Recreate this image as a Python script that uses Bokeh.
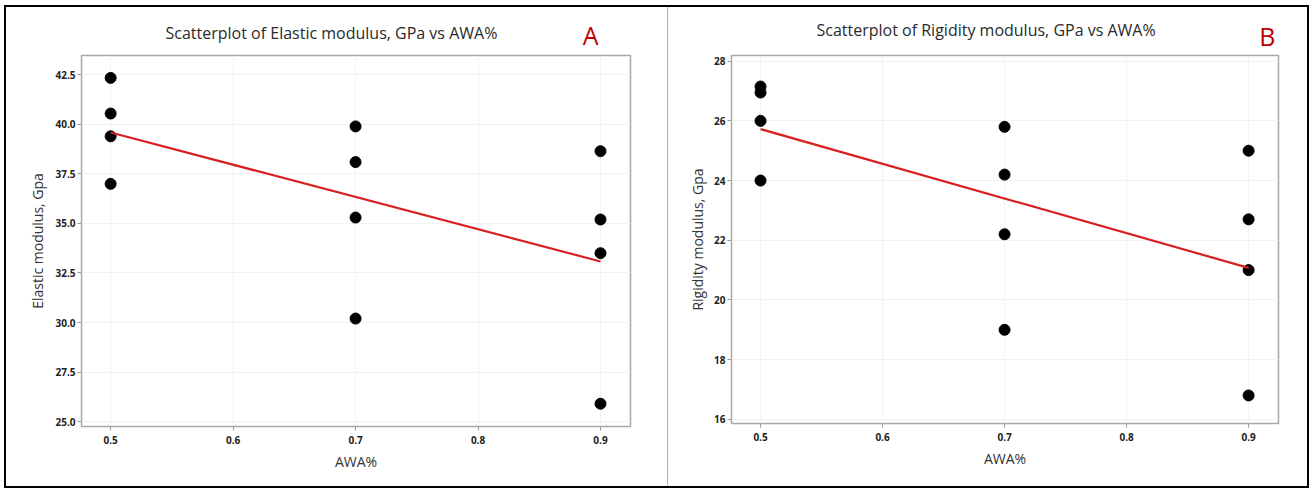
import numpy as np
from bokeh.plotting import figure
from bokeh.models import FixedTicker, NumeralTickFormatter, Title
from bokeh.layouts import row
from bokeh.embed import file_html
from bokeh.resources import INLINE

# ---- data ----
awa_levels = [0.5, 0.6, 0.7, 0.8, 0.9]
awa_a = [0.5, 0.5, 0.5, 0.5, 0.7, 0.7, 0.7, 0.7, 0.9, 0.9, 0.9, 0.9]
elastic = [42.35, 40.55, 39.4, 37.0, 39.9, 38.1, 35.3, 30.2, 38.65, 35.2, 33.5, 25.9]
awa_b = [0.5, 0.5, 0.5, 0.5, 0.7, 0.7, 0.7, 0.7, 0.9, 0.9, 0.9, 0.9]
rigidity = [27.15, 26.95, 26.0, 24.0, 25.8, 24.2, 22.2, 19.0, 25.0, 22.7, 21.0, 16.8]
yticks_a = [25.0, 27.5, 30.0, 32.5, 35.0, 37.5, 40.0, 42.5]
yticks_b = [16, 18, 20, 22, 24, 26, 28]

title_a = "Scatterplot of Elastic modulus, GPa vs AWA%"
title_b = "Scatterplot of Rigidity modulus, GPa vs AWA%"
ylabel_a = "Elastic modulus, Gpa"
ylabel_b = "Rigidity modulus, Gpa"
xlabel = "AWA%"

FONT = "Open Sans"
RED = "#c00000"


def panel(x, y, yticks, yfmt, yr, title, ylabel, letter, width, ml, mr, mt, fw, fh,
          title_off, title_so, letter_off, letter_so, ylab_standoff):
    p = figure(width=width, height=488, frame_width=fw, frame_height=fh,
               x_range=(0.4762, 0.9245), y_range=yr,
               output_backend="svg", toolbar_location=None,
               min_border_left=ml, min_border_right=mr, min_border_top=mt,
               min_border_bottom=488 - mt - fh)
    p.background_fill_color = "white"
    p.border_fill_color = None
    p.outline_line_color = "#a8a8a8"
    p.outline_line_width = 1.5
    for ax in (p.xaxis[0], p.yaxis[0]):
        ax.axis_line_color = None
        ax.major_tick_line_color = "#9a9a9a"
        ax.major_tick_out = 4
        ax.major_tick_in = 0
        ax.minor_tick_line_color = None
        ax.major_label_text_font = FONT
        ax.major_label_text_font_style = "bold"
        ax.major_label_text_font_size = "10px"
        ax.major_label_text_color = "#222222"
        ax.axis_label_text_font = FONT
        ax.axis_label_text_font_style = "normal"
        ax.axis_label_text_font_size = "14px"
        ax.axis_label_text_color = "#333333"
    p.xaxis.ticker = FixedTicker(ticks=awa_levels)
    p.xaxis.formatter = NumeralTickFormatter(format="0.0")
    p.xaxis.major_label_standoff = 5
    p.xaxis.axis_label = xlabel
    p.xaxis.axis_label_standoff = 5
    p.yaxis.ticker = FixedTicker(ticks=yticks)
    p.yaxis.formatter = NumeralTickFormatter(format=yfmt)
    p.yaxis.major_label_standoff = 2
    p.yaxis.axis_label = ylabel
    p.yaxis.axis_label_standoff = ylab_standoff
    p.grid.grid_line_color = "#f2f2f2"
    p.grid.grid_line_width = 1

    p.scatter(x, y, size=11, color="black")
    slope, icpt = np.polyfit(np.array(x), np.array(y), 1)
    xs = np.array([min(x), max(x)])
    p.line(xs, slope * xs + icpt, line_color="#d82020", line_width=2.2)

    p.add_layout(Title(text=title, align="left", offset=title_off, standoff=title_so,
                       vertical_align="bottom", text_font=FONT, text_font_size="16px",
                       text_font_style="normal", text_color="#2a2a2a"), "above")
    p.add_layout(Title(text=letter, align="right", offset=letter_off, standoff=letter_so,
                       vertical_align="bottom", text_font=FONT, text_font_size="25px",
                       text_font_style="normal", text_color=RED), "above")
    return p


p1 = panel(awa_a, elastic, yticks_a, "0.0", (24.75, 43.48), title_a, ylabel_a, "A",
           662, 81, 32, 52, 549, 371, 84, 24, 32, -88, 5)
p2 = panel(awa_b, rigidity, yticks_b, "0", (15.86, 28.19), title_b, ylabel_b, "B",
           652, 69, 36, 55, 547, 368, 85, 30, 3, -103, 4)

bg = ("linear-gradient(#000,#000) 4px 5px / 2px 483px no-repeat, "
      "linear-gradient(#000,#000) 4px 5px / 1305px 2px no-repeat, "
      "linear-gradient(#000,#000) 4px 486px / 1305px 2px no-repeat, "
      "linear-gradient(#000,#000) 1307px 5px / 2px 483px no-repeat, "
      "linear-gradient(#b0b0b0,#b0b0b0) 667px 7px / 1px 479px no-repeat")
layout = row(p1, p2, styles={"background": bg})
open("out.html", "w").write(file_html(layout, INLINE))
